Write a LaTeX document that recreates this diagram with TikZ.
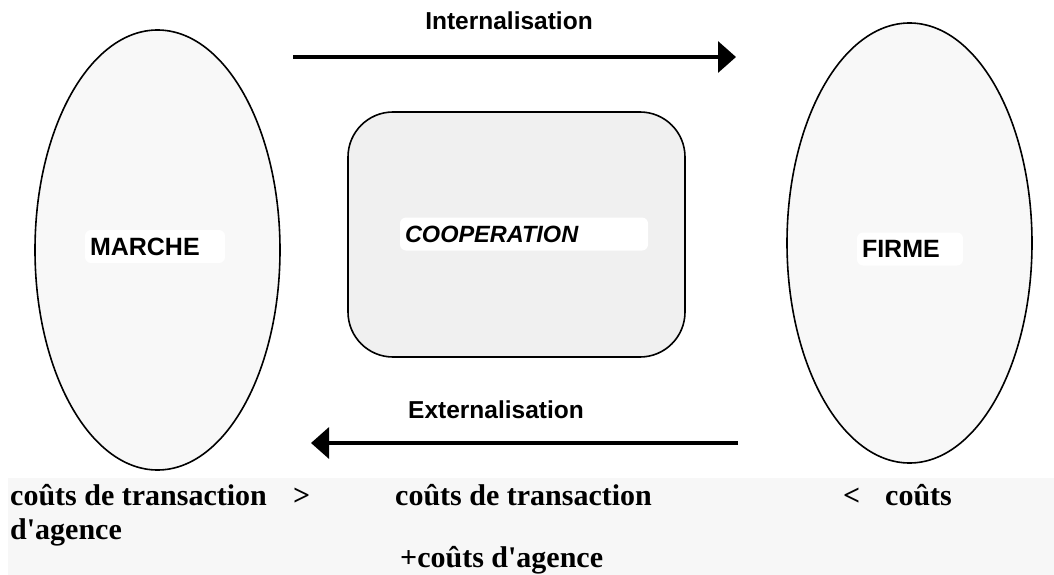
\documentclass[tikz,border=0pt]{standalone}
\usepackage{fontspec}
\usetikzlibrary{shapes.geometric,arrows.meta}
\newfontfamily\labelfont{Liberation Sans}
\newfontfamily\costfont{Liberation Serif}
\definecolor{ovalfill}{HTML}{F8F8F8}
\definecolor{boxfill}{HTML}{F0F0F0}
\definecolor{stripfill}{HTML}{F7F7F7}
\tikzset{
  oval/.style={ellipse, draw=black, line width=1.6pt, fill=ovalfill,
    minimum width=245pt, minimum height=440pt, inner sep=0pt},
  coopbox/.style={rectangle, rounded corners=45pt, draw=black, line width=1.6pt,
    fill=boxfill, minimum width=337pt, minimum height=245pt, inner sep=0pt},
  tag/.style={rectangle, rounded corners=6pt, fill=white, align=left,
    inner xsep=5pt, inner ysep=0pt, minimum height=33pt,
    font=\labelfont\bfseries\fontsize{25}{28}\selectfont},
  flowlabel/.style={inner sep=0pt, font=\labelfont\bfseries\fontsize{24.5}{28}\selectfont},
  flow/.style={line width=3.5pt, -{Triangle[length=18pt,width=31pt]}},
  cost/.style={anchor=base west, inner sep=0pt,
    font=\costfont\bfseries\fontsize{30}{34}\selectfont},
}
\begin{document}
\begin{tikzpicture}[x=1pt,y=-1pt]
  \useasboundingbox (0,0) rectangle (1054,575);
  \fill[white] (0,0) rectangle (1054,575);

  % the two institutional forms
  \node[oval] (market) at (157.5,250) {};
  \node[oval] (firm) at (909.5,243) {};
  \node[tag, text width=130pt] (marchetag) at (155,246.5) {MARCHE};
  \node[tag, text width=96pt] (firmetag) at (910,249) {FIRME};

  % hybrid form in the middle
  \node[coopbox] (coop) at (516.5,234.5) {};
  \node[tag, text width=238pt, font=\labelfont\bfseries\itshape\fontsize{23.5}{28}\selectfont]
    (cooptag) at (524,234) {COOPERATION};

  % internalisation / externalisation arrows
  \coordinate (inA) at (293,57);
  \coordinate (inB) at (736,57);
  \draw[flow] (inA) -- (inB);
  \node[flowlabel] (inlabel) at (509,21) {Internalisation};

  \coordinate (exA) at (738,443);
  \coordinate (exB) at (311,443);
  \draw[flow] (exA) -- (exB);
  \node[flowlabel] (exlabel) at (496,410) {Externalisation};

  % cost comparison strip
  \fill[stripfill] (8,478) rectangle (1054,575);
  \node[cost] (c1) at (10,505) {coûts de transaction};
  \node[cost] (gt) at (293,505) {>};
  \node[cost] (c1b) at (10,539) {d'agence};
  \node[cost] (c2) at (395,505) {coûts de transaction};
  \node[cost] (c2b) at (400,567) {+coûts d'agence};
  \node[cost] (lt) at (843,505) {<};
  \node[cost] (c3) at (885,505) {coûts};
\end{tikzpicture}
\end{document}
